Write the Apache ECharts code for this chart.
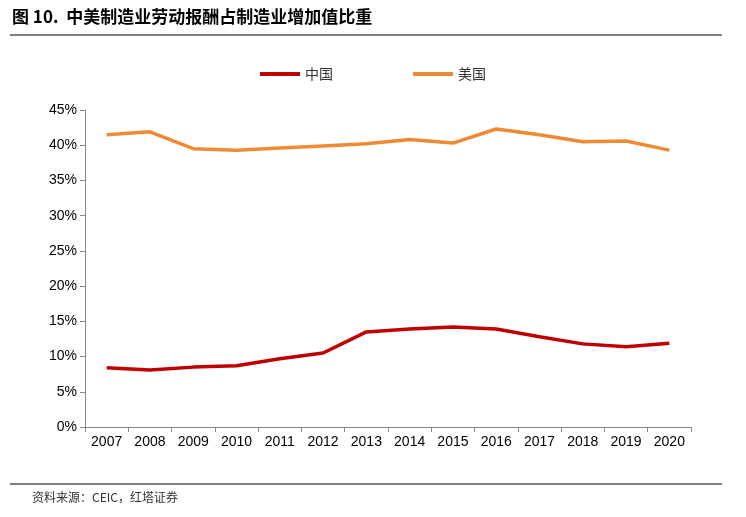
<!DOCTYPE html>
<html>
<head>
<meta charset="utf-8">
<script src="https://cdn.jsdelivr.net/npm/echarts@6/dist/echarts.min.js"></script>
<style>html,body{margin:0;padding:0;background:#fff}#chart{width:746px;height:517px}</style>
</head>
<body>
<div id="chart"></div>
<script>
// 中美制造业劳动报酬占制造业增加值比重
var years = ['2007','2008','2009','2010','2011','2012','2013','2014','2015','2016','2017','2018','2019','2020'];
var china = [8.4, 8.1, 8.5, 8.7, 9.7, 10.5, 13.5, 13.9, 14.2, 13.9, 12.8, 11.8, 11.4, 11.9];
var usa = [41.5, 41.9, 39.5, 39.3, 39.6, 39.9, 40.2, 40.8, 40.3, 42.3, 41.5, 40.5, 40.6, 39.3];

var myChart = echarts.init(document.getElementById('chart'));
var font = '"Noto Sans CJK SC", sans-serif';

var option = {
    animation: false,
    textStyle: {fontFamily: font},
    graphic: [
        {type: 'text', left: 12, top: 8, style: {text: '图 10.  中美制造业劳动报酬占制造业增加值比重', font: 'bold 17px ' + font, fill: '#000'}},
        {type: 'line', shape: {x1: 10, y1: 35, x2: 722, y2: 35}, style: {stroke: '#000', lineWidth: 1}},
        {type: 'line', shape: {x1: 10, y1: 484, x2: 722, y2: 484}, style: {stroke: '#000', lineWidth: 1}},
        {type: 'text', left: 32, top: 491, style: {text: '资料来源：CEIC，红塔证券', font: '12px ' + font, fill: '#333'}}
    ],
    legend: {
        top: 62,
        left: 'center',
        itemGap: 80,
        itemWidth: 40,
        itemHeight: 4,
        icon: 'rect',
        textStyle: {fontSize: 14, color: '#333'},
        data: ['中国', '美国']
    },
    grid: {left: 85, right: 55, top: 110, bottom: 90},
    xAxis: {
        type: 'category',
        boundaryGap: true,
        data: years,
        axisLine: {lineStyle: {color: '#888'}},
        axisTick: {show: true, lineStyle: {color: '#888'}},
        axisLabel: {color: '#000', fontSize: 14, fontFamily: 'Liberation Sans'}
    },
    yAxis: {
        type: 'value',
        min: 0,
        max: 45,
        interval: 5,
        axisLine: {show: true, lineStyle: {color: '#888'}},
        axisTick: {show: true, lineStyle: {color: '#888'}},
        splitLine: {show: false},
        axisLabel: {formatter: '{value}%', color: '#000', fontSize: 14, fontFamily: 'Liberation Sans'}
    },
    series: [
        {name: '中国', type: 'line', data: china, showSymbol: false, lineStyle: {width: 3.5, color: '#c00000'}, itemStyle: {color: '#c00000'}},
        {name: '美国', type: 'line', data: usa, showSymbol: false, lineStyle: {width: 3.5, color: '#ed8a33'}, itemStyle: {color: '#ed8a33'}}
    ]
};

myChart.setOption(option);
</script>
</body>
</html>
